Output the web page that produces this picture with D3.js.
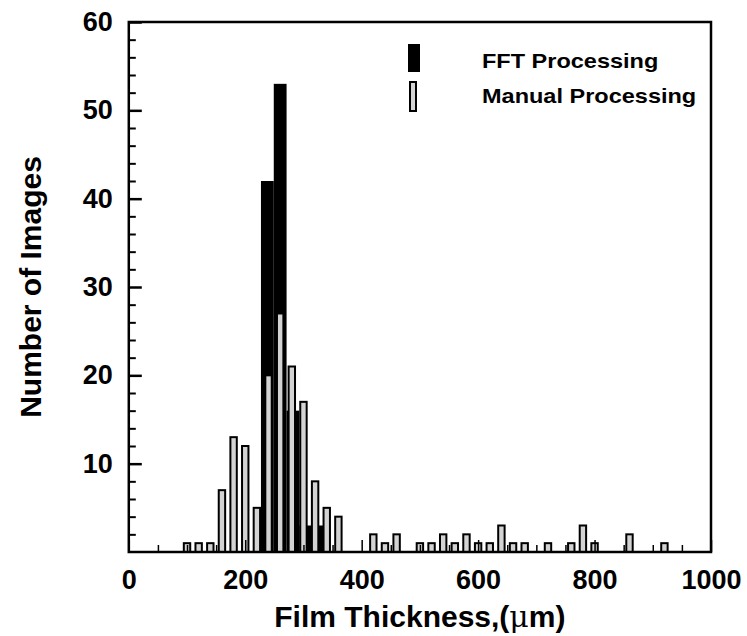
<!DOCTYPE html>
<html>
<head>
<meta charset="utf-8">
<script src="https://cdn.jsdelivr.net/npm/d3@7"></script>
<style>
  html, body { margin: 0; padding: 0; background: #fff; }
  svg { display: block; }
  text { font-family: "Liberation Sans", Arial, sans-serif; font-weight: bold; fill: #000; }
</style>
</head>
<body>
<svg id="chart" width="747" height="636"></svg>
<script>
// ---- data ----
const fftCenters = [238, 260, 282, 304, 326];
const fftCounts  = [42, 53, 16, 3, 3];
const fftBinWidth = 22;

const manualCenters = [100,120,140,160,180,200,220,240,260,280,300,320,340,360,420,440,460,500,520,540,560,580,600,620,640,660,680,720,760,780,800,860,920];
const manualCounts  = [1,1,1,7,13,12,5,20,27,21,17,8,5,4,2,1,2,1,1,2,1,2,1,1,3,1,1,1,1,3,1,2,1];
const manualBarWidth = 11;

const xTickLabels = [0, 200, 400, 600, 800, 1000];
const yTickLabels = [10, 20, 30, 40, 50, 60];
const legendLabels = ["FFT Processing", "Manual Processing"];

// ---- layout ----
const svg = d3.select("#chart");
const pL = 128.8, pR = 711, pT = 22, pB = 552;

const x = d3.scaleLinear().domain([0, 1000]).range([pL, pR]);
const y = d3.scaleLinear().domain([0, 60]).range([pB, pT]);

// FFT bars (black)
svg.append("g").selectAll("rect").data(fftCenters).join("rect")
  .attr("x", (d) => x(d - fftBinWidth / 2))
  .attr("width", x(fftBinWidth) - x(0))
  .attr("y", (d, i) => y(fftCounts[i]))
  .attr("height", (d, i) => y(0) - y(fftCounts[i]))
  .attr("fill", "#000");

// Manual bars (gray with black outline)
svg.append("g").selectAll("rect").data(manualCenters).join("rect")
  .attr("x", (d) => x(d - manualBarWidth / 2))
  .attr("width", x(manualBarWidth) - x(0))
  .attr("y", (d, i) => y(manualCounts[i]))
  .attr("height", (d, i) => y(0) - y(manualCounts[i]))
  .attr("fill", "#d3d3d3")
  .attr("stroke", "#000")
  .attr("stroke-width", 2);

// minor ticks
const yMinor = d3.range(2, 60, 2).filter(v => v % 10 !== 0);
svg.append("g").attr("transform", `translate(${pL},0)`)
  .call(d3.axisLeft(y).tickValues(yMinor).tickSize(-7).tickFormat(""))
  .call(g => g.select(".domain").remove())
  .call(g => g.selectAll("line").attr("stroke-width", 2));

const xMinor = d3.range(50, 1000, 50).filter(v => v % 200 !== 0);
svg.append("g").attr("transform", `translate(0,${pB})`)
  .call(d3.axisBottom(x).tickValues(xMinor).tickSize(-7).tickFormat(""))
  .call(g => g.select(".domain").remove())
  .call(g => g.selectAll("line").attr("stroke-width", 1.5));

// major axes with labels
svg.append("g").attr("transform", `translate(${pL},0)`)
  .call(d3.axisLeft(y).tickValues(yTickLabels).tickSize(-13).tickPadding(16).tickFormat(d3.format("d")))
  .call(g => g.select(".domain").remove())
  .call(g => g.selectAll("line").attr("stroke-width", 2.5))
  .call(g => g.selectAll("text").attr("font-size", 27).attr("font-family", null));

svg.append("g").attr("transform", `translate(0,${pB})`)
  .call(d3.axisBottom(x).tickValues(xTickLabels).tickSize(-12).tickPadding(18).tickFormat(d3.format("d")))
  .call(g => g.select(".domain").remove())
  .call(g => g.selectAll("line").attr("stroke-width", 1.5))
  .call(g => g.selectAll("text").attr("font-size", 27).attr("font-family", null));

// frame
svg.append("rect")
  .attr("x", pL).attr("y", pT)
  .attr("width", pR - pL).attr("height", pB - pT)
  .attr("fill", "none").attr("stroke", "#000").attr("stroke-width", 2.5);

// axis titles
const xt = svg.append("text")
  .attr("x", (pL + pR) / 2).attr("y", 627)
  .attr("text-anchor", "middle").attr("font-size", 30);
xt.append("tspan").text("Film Thickness,(");
xt.append("tspan").attr("font-weight", "normal").attr("font-family", "DejaVu Serif, serif").text("μ");
xt.append("tspan").text("m)");

svg.append("text")
  .attr("transform", `translate(41,${(pT + pB) / 2}) rotate(-90)`)
  .attr("text-anchor", "middle").attr("font-size", 30)
  .text("Number of Images");

// legend
const legend = svg.append("g");
legend.append("rect").attr("x", 408).attr("y", 44).attr("width", 12).attr("height", 28).attr("fill", "#000");
legend.append("rect").attr("x", 410).attr("y", 82).attr("width", 6).attr("height", 29)
  .attr("fill", "#d3d3d3").attr("stroke", "#000").attr("stroke-width", 2);
legend.selectAll("text").data(legendLabels).join("text")
  .attr("transform", (d, i) => `translate(482,${68 + i * 35}) scale(1.12,1)`)
  .attr("font-size", 21)
  .text(d => d);
</script>
</body>
</html>
